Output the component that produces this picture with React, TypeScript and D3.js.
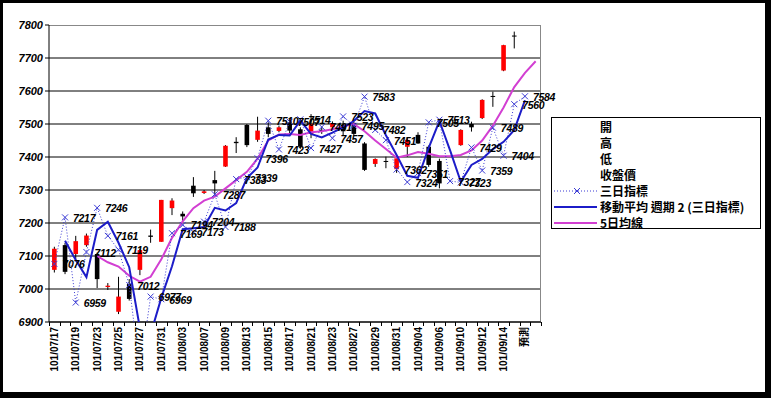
import { useMemo } from "react";
import * as d3 from "d3";

// categories (trading days, last ones are the forecast slots)
const dates = [
  "101/07/17", "101/07/18", "101/07/19", "101/07/20", "101/07/23", "101/07/24", "101/07/25", "101/07/26",
  "101/07/27", "101/07/30", "101/07/31", "101/08/01", "101/08/03", "101/08/06", "101/08/07", "101/08/08",
  "101/08/09", "101/08/10", "101/08/13", "101/08/14", "101/08/15", "101/08/16", "101/08/17", "101/08/20",
  "101/08/21", "101/08/22", "101/08/23", "101/08/24", "101/08/27", "101/08/28", "101/08/29", "101/08/30",
  "101/08/31", "101/09/03", "101/09/04", "101/09/05", "101/09/06", "101/09/07", "101/09/10", "101/09/11",
  "101/09/12", "101/09/13", "101/09/14", "101/09/17", "預測", "",
];

// 開 / 高 / 低 / 收盤價
const opens = [7058, 7133, 7106, 7133, 7106, 7006, 6931, 7015, 7058, 7162, 7143, 7245, 7228, 7313, 7291, 7330,
  7371, 7446, 7497, 7452, 7490, 7479, 7505, 7484, 7470, 7482, 7490, 7497, 7503, 7441, 7379, 7388,
  7363, 7431, 7467, 7431, 7388, null, 7436, 7500, 7518, 7585, 7662, 7768];
const highs = [7128, 7140, 7161, 7168, 7110, 7018, 7037, 7030, 7122, 7180, 7270, 7275, 7235, 7339, 7300, 7358,
  7436, 7460, 7500, 7522, 7505, 7495, 7515, 7490, 7530, 7492, 7508, 7510, 7508, 7445, 7396, 7401,
  7398, 7460, 7475, 7435, 7395, null, 7484, 7507, 7575, 7598, 7740, 7780];
const lows = [7050, 7045, 7088, 7128, 7003, 6997, 6924, 6965, 7042, 7140, 7143, 7224, 7205, 7279, 7288, 7285,
  7370, 7412, 7430, 7446, 7460, 7475, 7470, 7425, 7457, 7470, 7485, 7465, 7465, 7358, 7370, 7366,
  7352, 7400, 7440, 7370, 7305, null, 7434, 7477, 7515, 7552, 7660, 7729];
const closes = [7122, 7052, 7145, 7162, 7030, 7010, 6977, 6970, 7118, 7158, 7270, 7268, 7220, 7290, 7296, 7320,
  7434, 7442, 7436, 7480, 7470, 7490, 7480, 7431, 7500, 7478, 7503, 7478, 7470, 7361, 7394, 7385,
  7396, 7452, 7441, 7376, 7320, null, 7482, 7490, 7573, 7583, 7739, 7766];

// 三日指標
const threeDay = [7076, 7217, 6959, 7112, 7246, 7161, 7119, 7012, 6750, 6977, 6969, 7169, 7194, 7173, 7204, 7287,
  7188, 7333, 7339, 7396, 7510, 7423, 7507, 7514, 7427, 7491, 7457, 7523, 7495, 7583, 7482, 7451,
  7362, 7324, 7351, 7505, 7513, 7327, 7323, 7429, 7359, 7489, 7404, 7560, 7584, null];

// 移動平均 週期 2 (三日指標)
const movingAvg = [null, 7146, 7088, 7036, 7179, 7204, 7140, 7066, 6881, 6863, 6973, 7069, 7181, 7184, 7188, 7246,
  7238, 7260, 7336, 7368, 7453, 7467, 7465, 7510, 7470, 7459, 7474, 7490, 7509, 7539, 7532, 7466,
  7406, 7343, 7337, 7428, 7509, 7420, 7325, 7376, 7394, 7424, 7446, 7482, 7572, null];

// 5日均線
const fiveDay = [null, null, null, null, 7100, 7081, 7068, 7040, 7022, 7037, 7090, 7155, 7205, 7245, 7268, 7280,
  7305, 7330, 7355, 7395, 7450, 7468, 7470, 7467, 7475, 7478, 7484, 7492, 7500, 7478, 7450, 7424,
  7398, 7405, 7415, 7410, 7402, 7402, 7406, 7420, 7450, 7495, 7550, 7612, 7655, 7690];

const yTicks = [6900, 7000, 7100, 7200, 7300, 7400, 7500, 7600, 7700, 7800];

const legendItems = ["開", "高", "低", "收盤價", "三日指標", "移動平均  週期 2 (三日指標)", "5日均線"];

const W = 771;
const H = 398;
const PLOT = { left: 49, right: 541, top: 25, bottom: 322 };
const BLUE_MARK = "#3b3bd4";
const BLUE_LINE = "#1c1cc8";
const MAGENTA = "#d23fd2";
const NUM_FONT = "'Liberation Sans', Arial, sans-serif";
const CJK_FONT = "'Noto Sans CJK TC', 'Noto Sans CJK JP', sans-serif";

const Cross = ({ x, y }) => (
  <g stroke={BLUE_MARK} strokeWidth={1}>
    <line x1={x - 3} y1={y - 3} x2={x + 3} y2={y + 3} />
    <line x1={x - 3} y1={y + 3} x2={x + 3} y2={y - 3} />
  </g>
);

export default function App() {
  const idx = d3.range(dates.length);
  const xScale = useMemo(
    () => d3.scaleBand().domain(idx.map(String)).range([PLOT.left, PLOT.right]).padding(0),
    []
  );
  const yScale = d3.scaleLinear().domain([6900, 7800]).range([PLOT.bottom, PLOT.top]);
  const bw = xScale.bandwidth();
  const cx = (i) => xScale(String(i)) + bw / 2;

  const lineGen = d3
    .line()
    .defined((d) => d != null)
    .x((d, i) => cx(i))
    .y((d) => yScale(d));

  const bodyW = 4.6;

  return (
    <svg width={W} height={H} style={{ display: "block", position: "absolute", left: 0, top: 0 }}>
      <rect x={0} y={0} width={W} height={H} fill="#000" />
      <rect x={3} y={3} width={W - 9} height={H - 9} fill="#fff" />
      <defs>
        <clipPath id="plotClip">
          <rect x={PLOT.left} y={PLOT.top} width={PLOT.right - PLOT.left} height={PLOT.bottom - PLOT.top} />
        </clipPath>
      </defs>

      {/* gridlines */}
      {yTicks.slice(0, -1).map((t) => (
        <line key={t} x1={PLOT.left} x2={PLOT.right} y1={yScale(t)} y2={yScale(t)} stroke="#000" strokeWidth={1} />
      ))}
      <line x1={PLOT.left} x2={PLOT.right} y1={PLOT.top + 0.5} y2={PLOT.top + 0.5} stroke="#888" />
      <line x1={PLOT.right - 0.5} x2={PLOT.right - 0.5} y1={PLOT.top} y2={PLOT.bottom} stroke="#888" />

      {/* y axis */}
      <line x1={PLOT.left} x2={PLOT.left} y1={PLOT.top} y2={PLOT.bottom} stroke="#000" />
      {yTicks.map((t) => (
        <g key={t}>
          <line x1={PLOT.left - 4} x2={PLOT.left} y1={yScale(t)} y2={yScale(t)} stroke="#000" />
          <text x={43} y={yScale(t) + 4} textAnchor="end" fontFamily={NUM_FONT} fontSize={11}
            fontWeight="bold" fontStyle="italic">{t}</text>
        </g>
      ))}

      {/* x axis */}
      <line x1={PLOT.left} x2={PLOT.right} y1={PLOT.bottom} y2={PLOT.bottom} stroke="#000" />
      {d3.range(dates.length + 1).map((k) => {
        const xx = Math.round(PLOT.left + k * bw) + 0.5;
        return <line key={k} x1={xx} x2={xx} y1={PLOT.bottom} y2={PLOT.bottom + 4} stroke="#000" />;
      })}
      {dates.map((d, i) =>
        i % 2 === 0 ? (
          <text key={i} transform={`translate(${cx(i) + 3.5},327) rotate(-90)`} textAnchor="end"
            fontFamily={d === "預測" ? CJK_FONT : NUM_FONT} fontSize={10} fontWeight="bold">{d}</text>
        ) : null
      )}

      <g clipPath="url(#plotClip)">
        {/* candlesticks */}
        {opens.map((o, i) => {
          if (o == null) return null;
          const c = closes[i];
          const up = c >= o;
          const top = yScale(Math.max(o, c));
          const h = Math.max(1, Math.abs(yScale(o) - yScale(c)));
          return (
            <g key={i}>
              <line x1={cx(i)} x2={cx(i)} y1={yScale(highs[i])} y2={yScale(lows[i])} stroke="#000" />
              <rect x={cx(i) - bodyW / 2} y={top} width={bodyW} height={h} fill={up ? "#ff0000" : "#000"} />
            </g>
          );
        })}

        {/* 5日均線 */}
        <path d={lineGen(fiveDay)} fill="none" stroke={MAGENTA} strokeWidth={2} />

        {/* 三日指標 */}
        <path d={lineGen(threeDay)} fill="none" stroke={BLUE_MARK} strokeWidth={1} strokeDasharray="1,2" />
        {threeDay.map((v, i) => (v == null ? null : <Cross key={i} x={cx(i)} y={yScale(v)} />))}

        {/* moving average */}
        <path d={lineGen(movingAvg)} fill="none" stroke={BLUE_LINE} strokeWidth={2} />
      </g>

      {/* data labels */}
      {threeDay.map((v, i) =>
        v == null || v < 6900 ? null : (
          <text key={i} x={cx(i) + 8} y={yScale(v) + 4.5} fontFamily={NUM_FONT} fontSize={10.5}
            fontWeight="bold" fontStyle="italic" letterSpacing={-0.3}>{v}</text>
        )
      )}

      {/* legend */}
      <rect x={551.5} y={117.5} width={209} height={111} fill="#fff" stroke="#000" />
      {legendItems.map((name, i) => {
        const ly = 127 + i * 16;
        return (
          <g key={name}>
            {i === 4 && (
              <g>
                <line x1={554} x2={597} y1={ly} y2={ly} stroke={BLUE_MARK} strokeDasharray="1,2" />
                <Cross x={577} y={ly} />
              </g>
            )}
            {i === 5 && <line x1={554} x2={597} y1={ly} y2={ly} stroke={BLUE_LINE} strokeWidth={2} />}
            {i === 6 && <line x1={554} x2={597} y1={ly} y2={ly} stroke={MAGENTA} strokeWidth={2} />}
            <text x={600} y={ly + 4.5} fontFamily={CJK_FONT} fontSize={12} fontWeight="bold">{name}</text>
          </g>
        );
      })}
    </svg>
  );
}
